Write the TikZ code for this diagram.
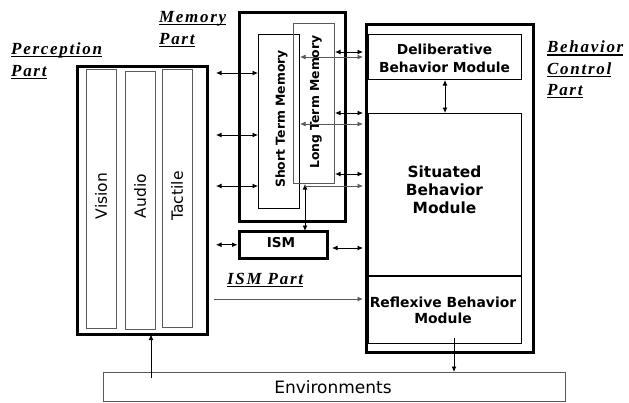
\documentclass[tikz,border=0pt]{standalone}
\usepackage{fontspec}
\setmainfont{DejaVu Sans}
\newfontfamily\lblfont[LetterSpace=10]{Liberation Serif}
\usetikzlibrary{arrows.meta}
% underline set a little below the baseline, across descenders
\newcommand\ulbl[1]{\setbox0\hbox{#1}\rlap{\rule[-3.3pt]{\wd0}{1.4pt}}\box0}

\begin{document}
\begin{tikzpicture}[x=1pt,y=-1pt,
  heavy/.style={draw, line width=3.5pt, inner sep=0pt, anchor=north west},
  part/.style={draw, line width=1pt, inner sep=0pt, anchor=north west},
  greypart/.style={part, draw=black!65},
  vtext/.style={rotate=90, inner sep=0pt, font=\fontsize{15.5}{18}\selectfont},
  mtext/.style={rotate=90, inner sep=0pt, font=\bfseries\fontsize{12.4}{15}\selectfont},
  btext/.style={align=center, inner sep=0pt},
  lbl/.style={anchor=base west, inner sep=0pt, font=\lblfont\bfseries\itshape\fontsize{17}{20}\selectfont},
  dlink/.style={line width=0.9pt, {Latex[length=5.5pt,width=5pt]}-{Latex[length=5.5pt,width=5pt]}},
  slink/.style={line width=0.9pt, -{Latex[length=5.5pt,width=5pt]}},
  greylink/.style={draw=black!65}
]
\useasboundingbox (0,0) rectangle (629,402);

% perception part
\node[heavy, minimum width=130, minimum height=268] (perc) at (75.5,64.5) {};
\node[greypart, minimum width=30, minimum height=259] (vis) at (86,69) {};
\node[greypart, minimum width=30, minimum height=258] (aud) at (125,71) {};
\node[greypart, minimum width=30, minimum height=258] (tac) at (162,69) {};
\node[vtext] (visT) at (101,196) {Vision};
\node[vtext] (audT) at (140,196) {Audio};
\node[vtext] (tacT) at (177,196) {Tactile};

% memory part
\node[heavy, minimum width=106, minimum height=209] (mem) at (237.5,10.5) {};
\node[part, minimum width=41, minimum height=174] (stm) at (258,34) {};
\node[greypart, minimum width=41, minimum height=160] (ltm) at (293,23) {};
\node[mtext] (stmT) at (281.5,119) {Short Term Memory};
\node[mtext] (ltmT) at (316,102) {Long Term Memory};

% ISM
\node[heavy, minimum width=88, minimum height=27] (ism) at (237.5,229.5) {};
\node[inner sep=0pt, font=\bfseries\fontsize{13.6}{16}\selectfont] (ismT) at (281,243) {ISM};

% behavior control part
\node[heavy, minimum width=167, minimum height=328] (beh) at (364.5,22.5) {};
\node[part, minimum width=153, minimum height=45] (delib) at (368,34) {};
\node[btext, font=\bfseries\fontsize{13.8}{18}\selectfont] (delibT) at (444.5,58) {Deliberative\\Behavior Module};
\node[part, line width=1.2pt, minimum width=153, minimum height=230] (sit) at (368,113) {};
\draw[line width=2pt] (sit.west |- 0,276) coordinate (divL) -- (sit.east |- 0,276) coordinate (divR);
\node[btext, font=\bfseries\fontsize{15.4}{18}\selectfont] (sitT) at (444.5,190) {Situated\\Behavior\\Module};
\node[btext, font=\bfseries\fontsize{13.9}{16}\selectfont] (reflT) at (443,310) {Reflexive Behavior\\Module};

% environments
\node[greypart, minimum width=462, minimum height=28.5] (env) at (103,372) {};
\node[inner sep=0pt, font=\fontsize{17}{20}\selectfont] (envT) at (333,387.5) {Environments};

% part labels
\node[lbl] (percA) at (11,54) {\ulbl{Perception}};
\node[lbl] (percB) at (11,76) {\ulbl{Part}};
\node[lbl] (memA) at (159,22) {\ulbl{Memory}};
\node[lbl] (memB) at (159,44) {\ulbl{Part}};
\node[lbl] (behA) at (547,52.5) {\ulbl{Behavior}};
\node[lbl] (behB) at (547,74) {\ulbl{Control}};
\node[lbl] (behC) at (547,95) {\ulbl{Part}};
\node[lbl] (ismA) at (227,284) {\ulbl{ISM Part}};

% perception <-> short term memory
\foreach \yy in {73,135,186}
  \draw[dlink] ([xshift=7pt]perc.east |- 0,\yy) -- (stm.west |- 0,\yy);
% perception <-> ISM
\draw[dlink] ([xshift=7pt]perc.east |- ism.west) -- (ism.west);
% perception -> reflexive behavior
\draw[slink, greylink] ([xshift=5pt]perc.east |- 0,299) -- ([xshift=-1.5pt]beh.west |- 0,299);
% environments -> perception
\draw[slink] ([yshift=-6pt]env.north -| 151,0) -- ([yshift=1.5pt]perc.south -| 151,0);
% reflexive behavior -> environments
\draw[slink] (454,338) -- (env.north -| 454,0);
% ISM <-> behavior control
\draw[dlink] ([xshift=3pt]ism.east |- 0,248) -- ([xshift=-1.5pt]beh.west |- 0,248);
% long term memory <-> behavior control
\foreach \yy in {52,113,174}
  \draw[dlink] (ltm.east |- 0,\yy) -- ([xshift=-1.5pt]beh.west |- 0,\yy);
% short term memory <-> behavior control
\foreach \yy in {57,124}
  \draw[dlink, greylink] (stm.east |- 0,\yy) -- ([xshift=-1.5pt]beh.west |- 0,\yy);
% long term memory <-> ISM, with a branch to behavior control
\draw[dlink] (ltm.south -| 305,0) -- ([yshift=-1.5pt]ism.north -| 305,0);
\draw[slink, greylink] (305,186) coordinate (branch) -- ([xshift=-1.5pt]beh.west |- branch);
% deliberative <-> situated
\draw[dlink] (delib.south) -- (sit.north -| delib.south);
\end{tikzpicture}
\end{document}
